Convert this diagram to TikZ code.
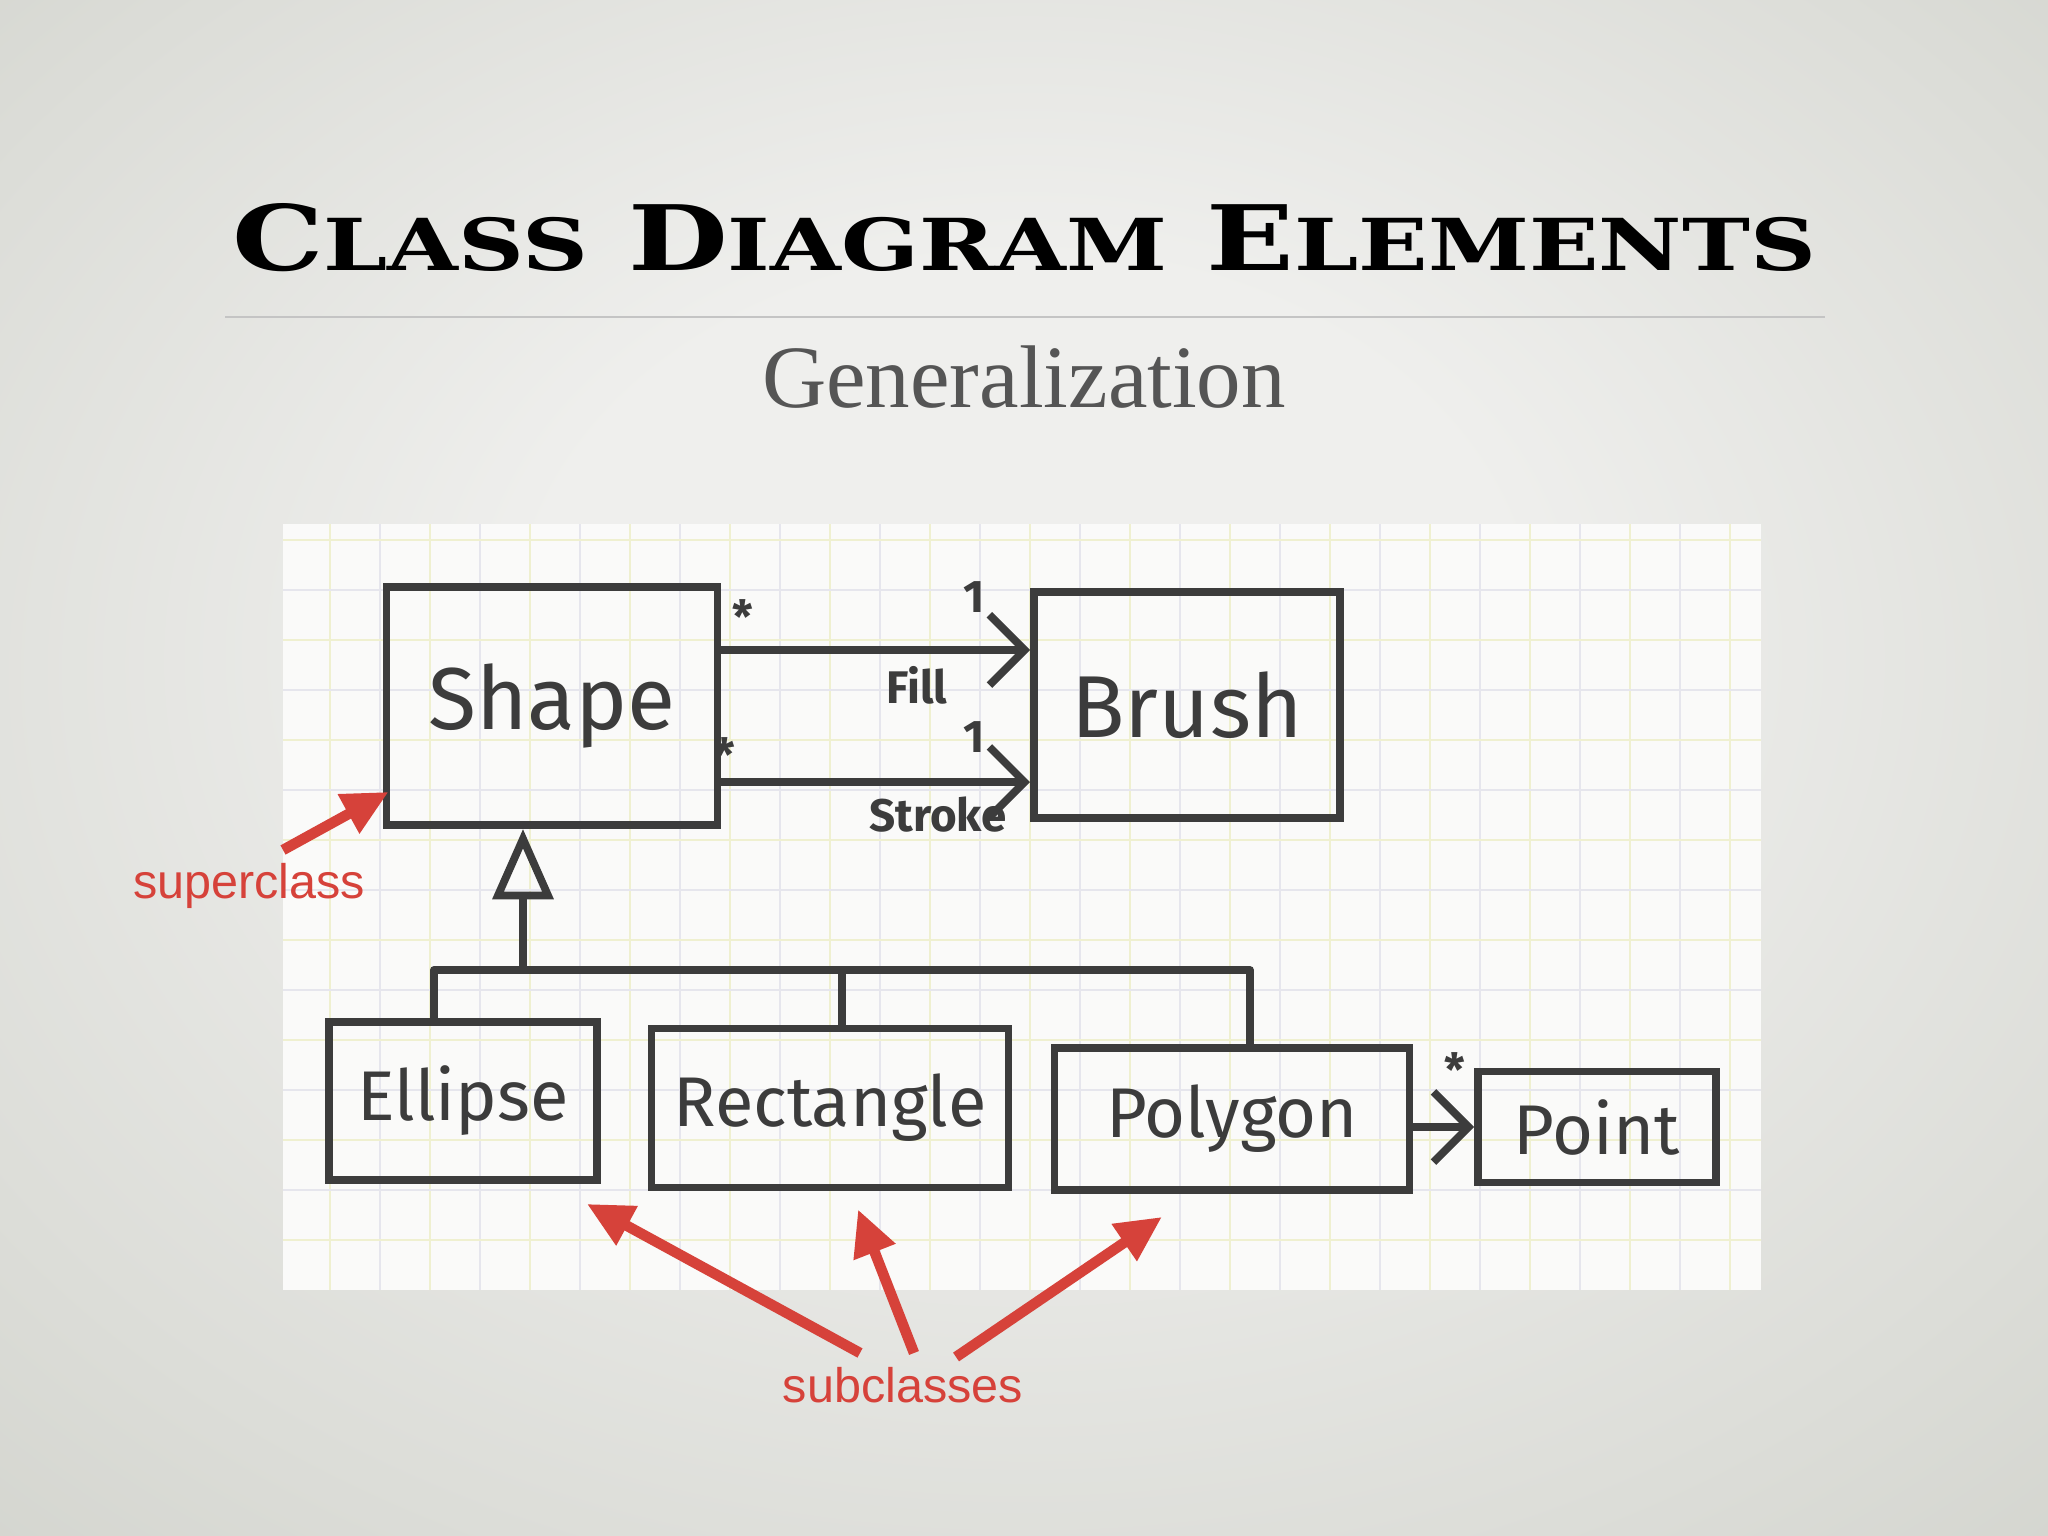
\documentclass[tikz,border=0pt]{standalone}
\usepackage{fontspec}
\usetikzlibrary{arrows.meta,calc}
\newfontfamily\handfont{Fira Sans}
\newfontfamily\redfont{Liberation Sans}
\newfontfamily\subfont{Liberation Serif}
\newfontfamily\headfont{DejaVu Serif}
\definecolor{ink}{RGB}{60,60,60}
\definecolor{redmark}{RGB}{214,66,58}
\definecolor{paper}{RGB}{250,250,249}
\definecolor{gridgray}{RGB}{230,230,237}
\definecolor{gridyellow}{RGB}{239,240,208}
\definecolor{bgIn}{RGB}{239,239,237}
\definecolor{bgMid}{RGB}{220,221,216}
\definecolor{bgOut}{RGB}{198,200,192}
\definecolor{subgray}{RGB}{85,85,85}
\definecolor{rulegray}{RGB}{196,196,196}
\pgfdeclareradialshading{slidebg}{\pgfpoint{0bp}{6bp}}{color(0bp)=(bgIn); color(12bp)=(bgIn); color(30bp)=(bgMid); color(50bp)=(bgOut)}
\newcommand{\bigsc}[2]{{\fontsize{29}{29}\selectfont #1}{\fontsize{23}{23}\selectfont #2}}
\tikzset{
  klass/.style={draw=ink, line width=2.2pt, inner sep=0pt, text=ink, font=\handfont\fontsize{20}{20}\selectfont},
  hand/.style={draw=ink, line width=2.2pt, line cap=round, line join=round},
  assoc/.style={hand, -{Straight Barb[length=10pt,width=20pt]}},
  gen/.style={hand, -{Triangle[open,length=20pt,width=17pt]}},
  mult/.style={text=ink, inner sep=0pt, font=\handfont\bfseries\fontsize{13}{13}\selectfont},
  pointer/.style={draw=redmark, line width=3pt, -{Triangle[length=13pt,width=12pt]}},
  note/.style={text=redmark, inner sep=0pt, font=\redfont\fontsize{13.8}{13.8}\selectfont},
}
\begin{document}
\begin{tikzpicture}[x=0.01cm,y=-0.01cm]
		%%%%% START %%%%%
		\useasboundingbox (0,0) rectangle (2048,1536);
		\shade[shading=slidebg] (0,0) rectangle (2048,1536);
		
		\node[anchor=base, text=black, inner sep=0pt] (title) at (1024,270) {\resizebox{15.83cm}{0.67cm}{\headfont\bfseries \bigsc{C}{LASS}\hspace{1em}\bigsc{D}{IAGRAM}\hspace{1em}\bigsc{E}{LEMENTS}}};
		\draw[rulegray, line width=0.8pt] (225,317) -- (1825,317);
		\node[anchor=base, text=subgray, inner sep=0pt, font=\subfont\fontsize{25.3}{25.3}\selectfont] (sub) at (1024,407) {Generalization};
		
		% the squared paper
		\fill[paper] (283,524) rectangle (1761,1290);
		\foreach \gx in {330,430,...,1730} \draw[gridyellow, line width=0.7pt] (\gx,524) -- (\gx,1290);
		\foreach \gx in {380,480,...,1680} \draw[gridgray, line width=0.7pt] (\gx,524) -- (\gx,1290);
		\foreach \gy in {540,640,...,1240} \draw[gridyellow, line width=0.7pt] (283,\gy) -- (1761,\gy);
		\foreach \gy in {590,690,...,1190} \draw[gridgray, line width=0.7pt] (283,\gy) -- (1761,\gy);
		
		% classes
		\node[klass, minimum width=3.31cm, minimum height=2.38cm, font=\handfont\fontsize{25}{25}\selectfont] (Shape) at (552,706) {Shape};
		\node[klass, minimum width=3.06cm, minimum height=2.26cm, font=\handfont\fontsize{25}{25}\selectfont] (Brush) at (1187,705) {Brush};
		\node[klass, minimum width=2.68cm, minimum height=1.58cm] (Ellipse) at (463,1101) {Ellipse};
		\node[klass, minimum width=3.57cm, minimum height=1.59cm] (Rectangle) at (830,1108) {Rectangle};
		\node[klass, minimum width=3.55cm, minimum height=1.42cm] (Polygon) at (1232,1119) {Polygon};
		\node[klass, minimum width=2.38cm, minimum height=1.11cm] (Point) at (1597,1127) {Point};
		
		% associations
		\coordinate (fillA) at ([yshift=0.56cm]Shape.east);
		\coordinate (strokeA) at ([yshift=-0.76cm]Shape.east);
		\draw[assoc] (fillA) -- (fillA -| Brush.west);
		\draw[assoc] (strokeA) -- (strokeA -| Brush.west);
		\draw[assoc] (Polygon.east |- Point.west) -- (Point.west);
		
		\node[mult] (fillMany) at (743,617) {*};
		\node[mult] (fillOne) at (974,597) {1};
		\node[mult] (fillName) at (917,685) {Fill};
		\node[mult] (strokeMany) at (725,755) {*};
		\node[mult] (strokeOne) at (974,737) {1};
		\node[mult] (strokeName) at (938,815) {Stroke};
		\node[mult] (pointMany) at (1455,1070) {*};
		
		% generalization
		\coordinate (bus) at (523,970);
		\coordinate (ellTop) at ([xshift=-0.29cm]Ellipse.north);
		\coordinate (recTop) at ([xshift=0.12cm]Rectangle.north);
		\coordinate (polTop) at ([xshift=0.18cm]Polygon.north);
		\draw[gen] (bus) -- (bus |- Shape.south);
		\draw[hand] (ellTop) |- (bus) -| (polTop);
		\draw[hand] (recTop) -- (recTop |- bus);
		
		% red notes
		\node[note, anchor=base] (superLbl) at (249,898) {superclass};
		\node[note, anchor=base] (subLbl) at (903,1402) {subclasses};
		\draw[pointer] ([xshift=0.34cm,yshift=0.48cm]superLbl.base) -- ([xshift=0.06cm,yshift=0.37cm]Shape.south west);
		\draw[pointer] ([xshift=-0.43cm,yshift=0.49cm]subLbl.base) -- ([xshift=-0.14cm,yshift=-0.2cm]Ellipse.south east);
		\draw[pointer] ([xshift=0.11cm,yshift=0.49cm]subLbl.base) -- ([xshift=0.28cm,yshift=-0.18cm]Rectangle.south);
		\draw[pointer] ([xshift=0.53cm,yshift=0.45cm]subLbl.base) -- ([xshift=-0.7cm,yshift=-0.23cm]Polygon.south);
		
		%%%%% END %%%%%
\end{tikzpicture}
\end{document}
